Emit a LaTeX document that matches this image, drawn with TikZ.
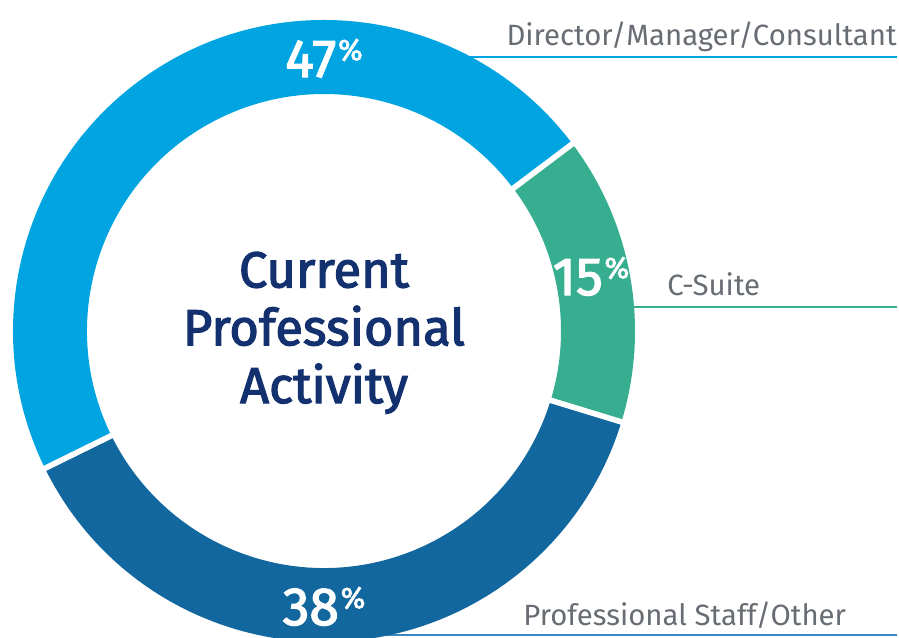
\documentclass[tikz,border=0pt]{standalone}
\usepackage{fontspec}
\setmainfont{Fira Sans}
\newfontfamily\lightfont{Fira Sans}
\newfontfamily\mediumfont{Fira Sans}[FakeBold=2.4]
\definecolor{skyblue}{HTML}{00A4E1}
\definecolor{seagreen}{HTML}{38AE91}
\definecolor{deepblue}{HTML}{11679E}
\definecolor{midblue}{HTML}{3A88C2}
\definecolor{navy}{HTML}{13306F}
\definecolor{labelgray}{HTML}{686D73}
\tikzset{
  x=0.02cm,
  y=0.02cm,
}
\tikzstyle{pct}=[white,inner sep=0,anchor=base,font=\mediumfont\fontsize{30.5}{30.5}\selectfont]
\tikzstyle{legendtext}=[labelgray,inner sep=0,font=\lightfont\fontsize{16.7}{16.7}\selectfont]
\tikzstyle{leader}=[line width=1.6pt]
\tikzstyle{centretext}=[navy,inner sep=0,anchor=base,align=center,font=\mediumfont\fontsize{28.8}{32.9}\selectfont]
\newcommand{\pcnt}[1]{#1\kern1pt\raisebox{9.6pt}{\fontsize{17}{17}\selectfont\%}}

\begin{document}
\begin{tikzpicture}
    \useasboundingbox (-324,-306) rectangle (575,331);
    % labels and their lines, behind the ring
    \node[legendtext,anchor=base east] (dmc) at (573,286) {Director/Manager/Consultant};
    \node[legendtext,anchor=base west] (cs) at (343,36) {C-Suite};
    \node[legendtext,anchor=base west] (pso) at (199,-294) {Professional Staff/Other};
    \coordinate (dmc-a) at (140,274);
    \coordinate (dmc-b) at (573,274);
    \coordinate (cs-a) at (300,24);
    \coordinate (cs-b) at (573,24);
    \coordinate (pso-a) at (0,-304);
    \coordinate (pso-b) at (573,-304);
    \draw[leader,skyblue] (dmc-a)--(dmc-b);
    \draw[leader,seagreen] (cs-a)--(cs-b);
    \draw[leader,midblue,line width=1.2pt] (pso-a)--(pso-b);

    % ring
    \fill[skyblue] (37:311) arc[start angle=37,end angle=206.2,radius=311]
      -- (206.2:237) arc[start angle=206.2,end angle=37,radius=237] -- cycle;
    \fill[deepblue] (206.2:311) arc[start angle=206.2,end angle=343,radius=311]
      -- (343:237) arc[start angle=343,end angle=206.2,radius=237] -- cycle;
    \fill[seagreen] (-17:311) arc[start angle=-17,end angle=37,radius=311]
      -- (37:237) arc[start angle=37,end angle=-17,radius=237] -- cycle;
    \foreach \a in {37,-17,206.2}
      \draw[white,line width=3.2pt] (\a:230)--(\a:320);

    \node[pct] (p47) at (0,254) {\pcnt{47}};
    \node[pct] (p15) at (267,36) {\pcnt{15}};
    \node[pct] (p38) at (0,-294) {\pcnt{38}};

    \node[centretext] (title) at (0,-72) {Current\\Professional\\Activity};
\end{tikzpicture}
\end{document}
